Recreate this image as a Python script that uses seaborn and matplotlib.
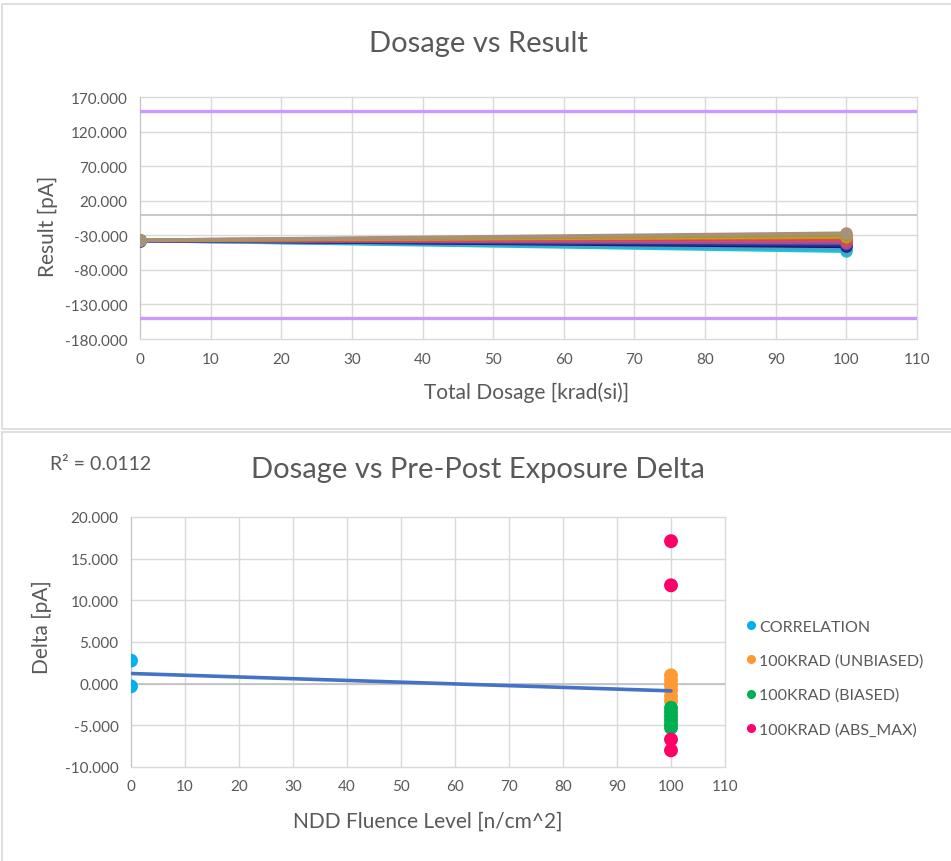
import numpy as np
import pandas as pd
import matplotlib
matplotlib.use('Agg')
import matplotlib.pyplot as plt
import seaborn as sns
from matplotlib.patches import Rectangle
from matplotlib.ticker import FormatStrFormatter

# --- Dosage vs Result (top chart) ---
dosagem = [0, 100]
series_nomes = ['S01', 'S02', 'S03', 'S04', 'S05', 'S06',
                'S07', 'S08', 'S09', 'S10', 'S11', 'S12']
res_inicio = [-37.5, -37.8, -37.2, -37.6, -37.0, -37.4,
              -37.3, -37.1, -36.9, -37.2, -37.0, -37.2]
res_fim = [-53.0, -50.0, -46.0, -44.0, -41.0, -39.0,
           -37.0, -35.0, -33.0, -31.5, -30.0, -27.0]
cores_series = ['#1CC3D6', '#3FA9C9', '#14146E', '#2E3192', '#7B5EA7', '#B04A8C',
                '#E0457B', '#C0504D', '#E07B28', '#D4A017', '#9C9A3C', '#A8917A']
limite_sup = 150
limite_inf = -150

# --- Dosage vs Pre-Post Exposure Delta (bottom chart) ---
grupos = ['CORRELATION', '100KRAD (UNBIASED)', '100KRAD (BIASED)', '100KRAD (ABS_MAX)']
cores_grupos = ['#00B0F0', '#FF9933', '#00B050', '#FF0066']
corr_x = [0, 0]
corr_y = [2.76, -0.32]
unbiased_x = [100, 100, 100, 100, 100, 100]
unbiased_y = [1.0, 0.4, -0.2, -0.8, -1.5, -2.1]
biased_x = [100, 100, 100, 100, 100, 100]
biased_y = [-2.9, -3.4, -3.9, -4.4, -4.9, -5.3]
absmax_x = [100, 100, 100, 100]
absmax_y = [17.1, 11.8, -6.7, -8.0]
texto_r2 = 'R² = 0.0112'

cinza_texto = '#595959'
cinza_grade = '#D9D9D9'
cinza_eixo = '#BFBFBF'

sns.set_style('white')
plt.rcParams['font.family'] = ['Lato', 'DejaVu Sans']

fig = plt.figure(figsize=(9.51, 8.62), dpi=100)

# chart borders (Excel chart areas)
for y0, y1 in [(5, 430), (433, 870)]:
    fig.patches.append(Rectangle((2 / 951, 1 - y1 / 862), 1.0, (y1 - y0) / 862,
                                 transform=fig.transFigure, fill=False,
                                 edgecolor=cinza_grade, lw=1.2))


def estilo_eixo(ax, xt, yt, fmt):
    for s in ax.spines.values():
        s.set_visible(False)
    ax.set_xticks(xt)
    ax.set_yticks(yt)
    ax.yaxis.set_major_formatter(FormatStrFormatter(fmt))
    ax.grid(True, color=cinza_grade, lw=1)
    ax.set_axisbelow(True)
    ax.tick_params(length=0, labelsize=11, colors=cinza_texto, pad=9)
    ax.set_xlabel('')
    ax.set_ylabel('')
    for gl in ax.get_xgridlines() + ax.get_ygridlines():
        gl.set_clip_on(False)


# ---------- top ----------
ax1 = fig.add_axes([140 / 951, 1 - 340 / 862, 777 / 951, 242 / 862])
linhas = []
for nome, a, b in zip(series_nomes, res_inicio, res_fim):
    linhas.append(pd.DataFrame({'Dosagem': dosagem, 'Resultado': [a, b], 'Serie': nome}))
df1 = pd.concat(linhas, ignore_index=True)

ax1.axhline(limite_sup, color='#CC99FF', lw=2.4, zorder=2)
ax1.axhline(limite_inf, color='#CC99FF', lw=2.4, zorder=2)
ax1.axhline(0, color=cinza_eixo, lw=1.2, zorder=1.5)
ax1.axvline(0, color=cinza_eixo, lw=1.2, zorder=1.5)
sns.lineplot(data=df1, x='Dosagem', y='Resultado', hue='Serie', hue_order=series_nomes,
             palette=cores_series, marker='o', markersize=9, markeredgewidth=0,
             linewidth=2.6, legend=False, ax=ax1)
ax1.set_xlim(0, 110)
ax1.set_ylim(-180, 170)
estilo_eixo(ax1, np.arange(0, 111, 10), np.arange(-180, 171, 50), '%.3f')

fig.text(478 / 951, 1 - 44 / 862, 'Dosage vs Result', ha='center', va='center',
         fontsize=21, color=cinza_texto)
fig.text(48 / 951, 1 - 226 / 862, 'Result [pA]', ha='center', va='center',
         rotation=90, fontsize=15, color=cinza_texto)
fig.text(527 / 951, 1 - 393 / 862, 'Total Dosage [krad(si)]', ha='center', va='center',
         fontsize=15, color=cinza_texto)

# ---------- bottom ----------
ax2 = fig.add_axes([131 / 951, 1 - 768 / 862, 594 / 951, 250 / 862])
df2 = pd.DataFrame({
    'Fluence': corr_x + unbiased_x + biased_x + absmax_x,
    'Delta': corr_y + unbiased_y + biased_y + absmax_y,
    'Grupo': [grupos[0]] * len(corr_x) + [grupos[1]] * len(unbiased_x)
             + [grupos[2]] * len(biased_x) + [grupos[3]] * len(absmax_x),
})
ax2.axhline(0, color=cinza_eixo, lw=1.2, zorder=1.5)
ax2.axvline(0, color=cinza_eixo, lw=1.2, zorder=1.5)
sns.scatterplot(data=df2, x='Fluence', y='Delta', hue='Grupo', hue_order=grupos,
                palette=cores_grupos, s=100, edgecolor='none', ax=ax2, zorder=3)
sns.regplot(data=df2, x='Fluence', y='Delta', scatter=False, ci=None, truncate=True,
            line_kws=dict(color='#4472C4', lw=2.6, zorder=4), ax=ax2)
ax2.set_xlim(0, 110)
ax2.set_ylim(-10, 20)
estilo_eixo(ax2, np.arange(0, 111, 10), np.arange(-10, 21, 5), '%.3f')

handles, labels = ax2.get_legend_handles_labels()
ax2.get_legend().remove()
leg = ax2.legend(handles, labels, loc='upper left', bbox_to_anchor=(729 / 951, 1 - 606 / 862),
                 bbox_transform=fig.transFigure, frameon=False, fontsize=11.5,
                 labelspacing=1.25, handletextpad=0.0, handlelength=1.0, markerscale=0.65)
for t in leg.get_texts():
    t.set_color(cinza_texto)

fig.text(478 / 951, 1 - 470 / 862, 'Dosage vs Pre-Post Exposure Delta', ha='center',
         va='center', fontsize=21, color=cinza_texto)
fig.text(50 / 951, 1 - 465 / 862, texto_r2, ha='left', va='center',
         fontsize=14, color=cinza_texto)
fig.text(42 / 951, 1 - 627 / 862, 'Delta [pA]', ha='center', va='center',
         rotation=90, fontsize=15, color=cinza_texto)
fig.text(428 / 951, 1 - 822 / 862, 'NDD Fluence Level [n/cm^2]', ha='center', va='center',
         fontsize=15, color=cinza_texto)

fig.savefig('out.png', dpi=100)
